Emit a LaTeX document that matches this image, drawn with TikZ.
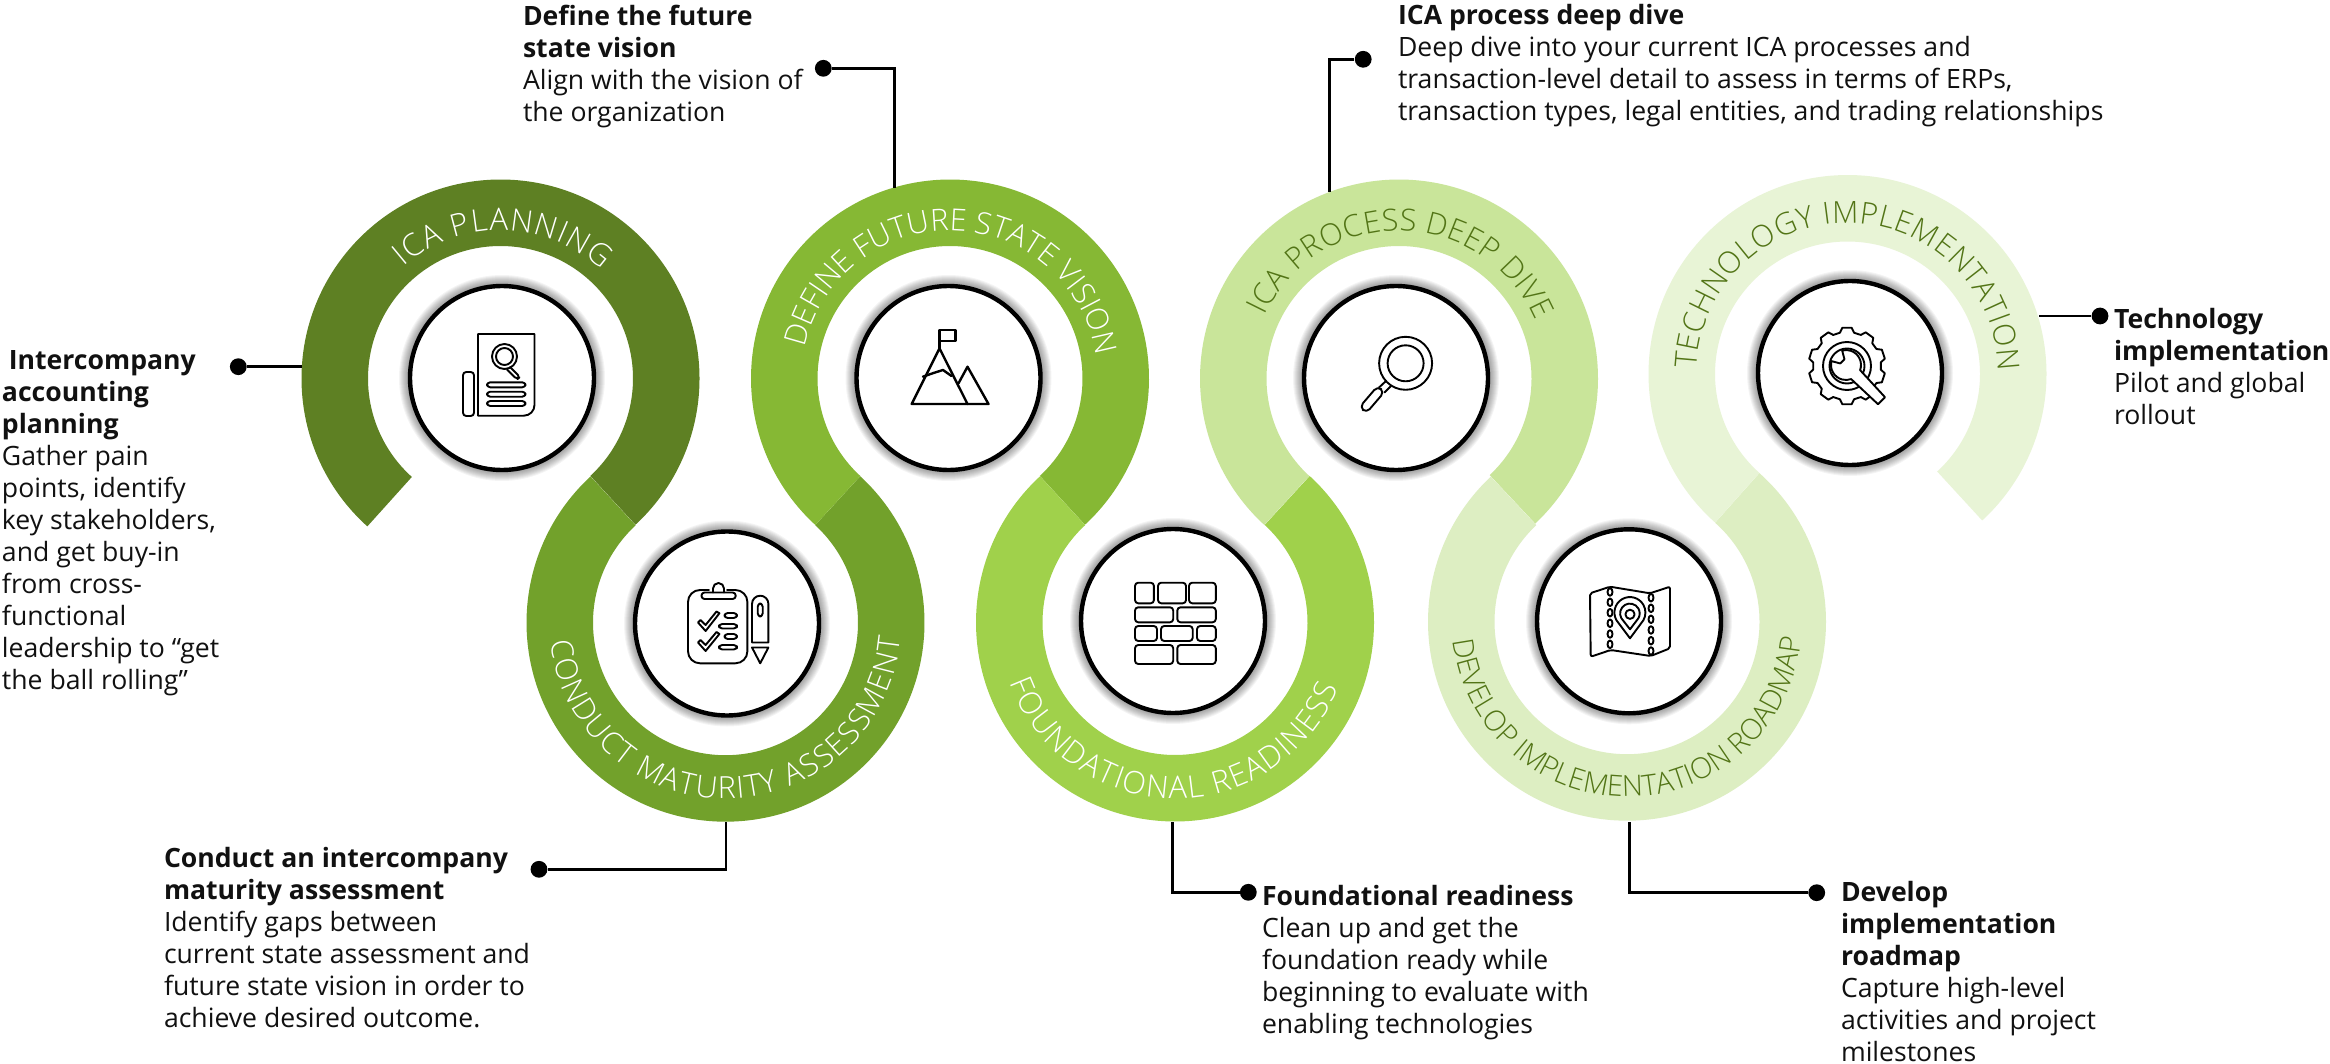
\documentclass[tikz,border=0pt]{standalone}
\usepackage{fontspec}
\setmainfont{Open Sans}
\newfontfamily\ringfont{Open Sans Light}
\usetikzlibrary{calc,decorations.text}
\definecolor{ga}{HTML}{5E8023}
\definecolor{gt}{HTML}{527416}
\definecolor{gb}{HTML}{72A12B}
\definecolor{gc}{HTML}{86B834}
\definecolor{gd}{HTML}{A0D14B}
\definecolor{ge}{HTML}{C9E59A}
\definecolor{gf}{HTML}{DDEEC2}
\definecolor{gg}{HTML}{E8F4D6}
\definecolor{inkc}{HTML}{111111}
\newcommand{\ringseg}[4]{\fill[#4] (#1) ++(#2:199) arc[start angle=#2,end angle=#3,radius=199] -- ($(#1)+(#3:132.5)$) arc[start angle=#3,end angle=#2,radius=132.5] -- cycle;}
\newcommand{\ringtext}[7]{\path[decorate,decoration={text along path,text align={fit to path},text={|\ringfont\fontsize{#6}{#6}\selectfont\color{#7}|#5}}] (#1) ++(#3:#2) arc[start angle=#3,end angle=#4,radius=#2];}
\newcommand{\hubshadow}[1]{\foreach \r in {103,102,...,93}{\fill[black,opacity=.045] (#1) circle[radius=\r];}}
\tikzset{
  hub/.style={circle,draw=black,fill=white,line width=2.2pt,inner sep=0pt,outer sep=0pt,minimum size=92pt},
  icon/.style={draw=black,line width=.95pt,line join=round,line cap=round},
  bar/.style={icon,rounded corners=1.6pt},
  dot/.style={circle,fill=black,inner sep=0pt,minimum size=8.4pt},
  conn/.style={draw=black,line width=1.3pt},
  info/.style={anchor=north west,inner sep=0pt,outer sep=0pt,align=left,text=inkc,font=\fontsize{13.3}{16}\selectfont},
}
\newcommand{\fl}{\rule{0pt}{12pt}}
\begin{document}
\begin{tikzpicture}[x=.5pt,y=.5pt]
\useasboundingbox (0,0) rectangle (2330,-1064);
\fill[white] (0,0) rectangle (2330,-1064);
\coordinate (c1) at (500.5,-378.5);
\coordinate (c2) at (725.5,-622.7);
\coordinate (c3) at (950,-378.5);
\coordinate (c4) at (1175,-622.5);
\coordinate (c5) at (1399,-378.5);
\coordinate (c6) at (1627,-621.7);
\coordinate (c7) at (1847.5,-374);
% ribbons
\ringseg{c1}{228}{-47.3}{ga}
\ringseg{c2}{132.7}{407.4}{gb}
\ringseg{c3}{227.4}{-47.3}{gc}
\ringseg{c4}{132.7}{407.4}{gd}
\ringseg{c5}{227.4}{-46.8}{ge}
\ringseg{c6}{133.2}{408.3}{gf}
\ringseg{c7}{228.3}{-47.4}{gg}
% ribbon labels
\ringtext{c1}{148}{131}{47}{ICA PLANNING}{15.5}{white}
\ringtext{c3}{148}{168}{9}{DEFINE FUTURE STATE VISION}{15.2}{white}
\ringtext{c5}{148}{155}{23}{ICA PROCESS DEEP DIVE}{15.2}{gt}
\ringtext{c7}{151}{178}{1}{TECHNOLOGY IMPLEMENTATION}{15.2}{gt}
\ringtext{c2}{176}{186}{355}{CONDUCT MATURITY ASSESSMENT}{15.2}{white}
\ringtext{c4}{176}{200}{338}{FOUNDATIONAL READINESS}{15.5}{white}
\ringtext{c6}{175}{186}{354}{DEVELOP IMPLEMENTATION ROADMAP}{14.5}{gt}
% hubs
\hubshadow{502,-378}
\hubshadow{727,-623.5}
\hubshadow{948.5,-378}
\hubshadow{1173,-621}
\hubshadow{1396,-378}
\hubshadow{1629,-621.3}
\hubshadow{1850,-373}
\node[hub] (hub1) at (502,-378) {};
\node[hub] (hub2) at (727,-623.5) {};
\node[hub] (hub3) at (948.5,-378) {};
\node[hub] (hub4) at (1173,-621) {};
\node[hub] (hub5) at (1396,-378) {};
\node[hub] (hub6) at (1629,-621.3) {};
\node[hub] (hub7) at (1850,-373) {};
% icon 1: report with magnifier
\begin{scope}[shift={(hub1.center)}]
\draw[icon] (-24,-37.7) -- (-24,44) -- (32.5,44) -- (32.5,-27) arc[start angle=0,end angle=-90,radius=10.7] -- cycle;
\draw[bar] (-39,-38) rectangle (-28,6);
\draw[icon] (2.5,21.5) circle[radius=12.5];
\draw[icon] (2.5,21.5) circle[radius=8.5];
\draw[bar] (8,11) -- (18,1) -- (15,-1.5) -- (5,8.5);
\draw[bar] (-15,-9.3) rectangle (23.5,-4.3);
\draw[bar] (-15,-18.7) rectangle (23.5,-13.7);
\draw[bar] (-15,-28) rectangle (23.5,-23);
\end{scope}
% icon 2: checklist and pen
\begin{scope}[shift={(hub2.center)}]
\draw[icon,rounded corners=6pt] (-18,33.5) -- (-39,33.5) -- (-39,-39.8) -- (20.4,-39.8) -- (20.4,33.5) -- (0,33.5);
\draw[icon,rounded corners=1.5pt] (-25.5,24.5) rectangle (8.7,31);
\draw[icon] (-14,31) -- (-14,35) arc[start angle=180,end angle=0,radius=5.5] -- (-3,31);
\draw[icon] (25,-19) -- (25,19.6) arc[start angle=180,end angle=0,radius=8.2] -- (41.4,-19) -- cycle;
\draw[icon] (25,-24) -- (41.4,-24) -- (33.2,-39.8) -- cycle;
\draw[bar] (30.7,7) rectangle (35.7,20);
\draw[icon] (-29,1) -- (-21.4,-7.5) -- (-7.6,10.2) -- (-10.5,12) -- (-21.4,-1.5) -- (-26.5,3.5) -- cycle;
\draw[icon] (-29,-19) -- (-21.4,-27.5) -- (-7.6,-10.5) -- (-10.5,-8.5) -- (-21.4,-21.5) -- (-26.5,-16.5) -- cycle;
\draw[bar] (-2.5,5.5) rectangle (10,10.5);
\draw[bar] (-8,-5) rectangle (10,-.5);
\draw[bar] (-2.5,-15.5) rectangle (10,-10.5);
\draw[bar] (-8,-26) rectangle (10,-21.5);
\end{scope}
% icon 3: mountains with flag
\begin{scope}[shift={(hub3.center)}]
\draw[icon,line width=1.2pt] (-9,29.7) -- (-9,48) -- (7,48) -- (7,37) -- (-9,37);
\draw[icon,line width=1.2pt] (-36.8,-26) -- (-9,29.7) -- (19,-26) -- cycle;
\draw[icon,line width=1.2pt] (10,-5.3) -- (19,11.3) -- (40,-26) -- (19,-26);
\draw[icon,line width=1.2pt] (-25.6,1.3) -- (-15,5) -- (-5.5,8) -- (3,2);
\end{scope}
% icon 4: brick wall
\begin{scope}[shift={(hub4.center)}]
\foreach \xa/\xb/\ya/\yb in {
 -38/-19.1/17.7/38.3, -15/13/17.7/38.3, 16/42.8/17.7/38.3,
 -38/0.2/-1.3/13.7, 4.3/42.8/-1.3/13.7,
 -38/-16/-20/-5, -12/19.7/-20/-5, 24/42.8/-20/-5,
 -38/0.2/-43/-24, 4.3/42.8/-43/-24}
 {\draw[bar] (\xa,\ya) rectangle (\xb,\yb);}
\end{scope}
% icon 5: magnifier
\begin{scope}[shift={(hub5.center)}]
\draw[icon] (9.6,14.7) circle[radius=26.5];
\draw[icon] (9.6,14.7) circle[radius=18];
\draw[icon] (-10,-3) -- (-17,-9.5);
\draw[icon] (-5,-8) -- (-11.5,-14.5);
\draw[icon,rounded corners=2.5pt] (-11.6,-13.9) -- (-29.6,-34.9) -- (-36.4,-29.1) -- (-18.4,-8.1) -- cycle;
\end{scope}
% icon 6: folded map
\begin{scope}[shift={(hub6.center)}]
\draw[icon,rounded corners=1pt] (-39,28) -- (-19,34.6) -- (21,28) -- (41,34.6) -- (41,-27) -- (21.7,-34.7) -- (-18.3,-28.7) -- (-38.3,-35.4) -- cycle;
\foreach \yy in {29.3,19,8.6,-2,-12.7,-23}{\draw[icon,fill=white] (-19,\yy) ellipse[x radius=2.5,y radius=3.8];}
\foreach \yy in {23.6,13,2,-8.7,-19.4,-29.7}{\draw[icon,fill=white] (22,\yy) ellipse[x radius=2.5,y radius=3.8];}
\draw[icon] (1,-17) -- (-12.5,1) arc[start angle=210,end angle=-30,radius=15.5] -- cycle;
\draw[icon] (1,-8) -- (-7.6,3) arc[start angle=210,end angle=-30,radius=9.8] -- cycle;
\draw[icon] (1,7) circle[radius=4.6];
\end{scope}
% icon 7: gear and wrench
\begin{scope}[shift={(hub7.center)}]
\draw[icon] (-3+34*cos 6,7+34*sin 6) \foreach \a in {18,54,...,342}{ -- ({-3+34*cos(\a-12)},{7+34*sin(\a-12)}) -- ({-3+38.5*cos(\a-7)},{7+38.5*sin(\a-7)}) -- ({-3+38.5*cos(\a+7)},{7+38.5*sin(\a+7)}) -- ({-3+34*cos(\a+12)},{7+34*sin(\a+12)})} -- cycle;
\draw[icon] (-3,7) circle[radius=24];
\draw[icon] (-3,7) circle[radius=17.5];
\begin{scope}[shift={(-4,8)}]
\draw[icon,fill=white] (165:15) arc[start angle=165,end angle=290,radius=15] -- (32,-39.2) -- (39,-32.2) -- (340:15) arc[start angle=340,end angle=465,radius=15] -- (105:6) -- (165:6) -- cycle;
\end{scope}
\end{scope}
% captions
\node[info] (t1) at (2,-345.3) {\fl\textbf{\ Intercompany}\\\textbf{accounting}\\\textbf{planning}\\Gather pain\\points, identify\\key stakeholders,\\and get buy-in\\from cross-\\functional\\leadership to “get\\the ball rolling”};
\node[info] (t2) at (164,-843.7) {\fl\textbf{Conduct an intercompany}\\\textbf{maturity assessment}\\Identify gaps between\\current state assessment and\\future state vision in order to\\achieve desired outcome.};
\node[info] (t3) at (523,-2) {\fl\textbf{Define the future}\\\textbf{state vision}\\Align with the vision of\\the organization};
\node[info] (t4) at (1398,-0.5) {\fl\textbf{ICA process deep dive}\\Deep dive into your current ICA processes and\\transaction-level detail to assess in terms of ERPs,\\transaction types, legal entities, and trading relationships};
\node[info] (t5) at (2114,-304) {\fl\textbf{Technology}\\\textbf{implementation}\\Pilot and global\\rollout};
\node[info] (t6) at (1262,-881) {\fl\textbf{Foundational readiness}\\Clean up and get the\\foundation ready while\\beginning to evaluate with\\enabling technologies};
\node[info] (t7) at (1841,-877.7) {\fl\textbf{Develop}\\\textbf{implementation}\\\textbf{roadmap}\\Capture high-level\\activities and project\\milestones};
% connectors
\node[dot] (d1) at (238.3,-366.7) {};
\node[dot] (d2) at (539,-869.3) {};
\node[dot] (d3) at (823.3,-68.3) {};
\node[dot] (d4) at (1363.2,-59.3) {};
\node[dot] (d5) at (2100,-316) {};
\node[dot] (d6) at (1248.3,-892.3) {};
\node[dot] (d7) at (1816.7,-892.7) {};
\coordinate (a1) at (302,-366.7);
\coordinate (a2) at (726,-821.5);
\coordinate (a3) at (894.3,-188);
\coordinate (a4) at (1329.5,-192);
\coordinate (a5) at (2039,-316);
\coordinate (a6) at (1172.7,-821.5);
\coordinate (a7) at (1629.3,-821.5);
\draw[conn] (d1) -- (a1);
\draw[conn] (d2) -| (a2);
\draw[conn] (d3) -| (a3);
\draw[conn] (d4) -| (a4);
\draw[conn] (d5) -- (a5);
\draw[conn] (d6) -| (a6);
\draw[conn] (d7) -| (a7);
\end{tikzpicture}
\end{document}
